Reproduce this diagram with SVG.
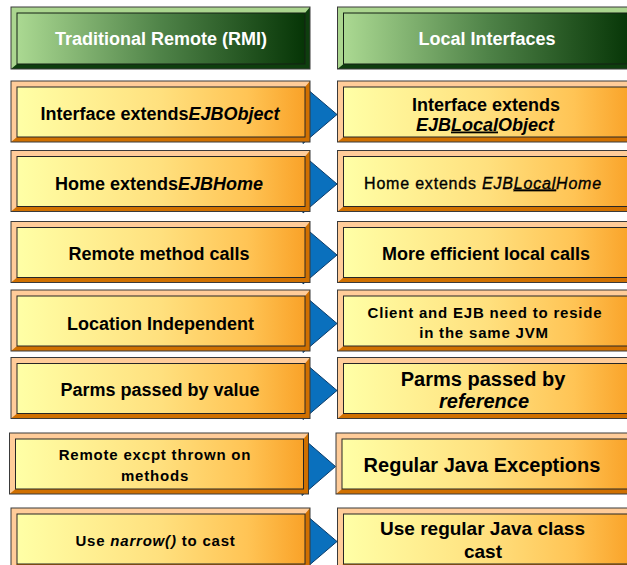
<svg xmlns="http://www.w3.org/2000/svg" xmlns:xlink="http://www.w3.org/1999/xlink" width="627" height="565" viewBox="0 0 627 565">
<defs>
  <linearGradient id="og" x1="0" y1="0" x2="1" y2="0">
    <stop offset="0" stop-color="#FFFFA6"/>
    <stop offset="0.5" stop-color="#FFE07E"/>
    <stop offset="0.8" stop-color="#FFC455"/>
    <stop offset="1" stop-color="#F9A228"/>
  </linearGradient>
  <linearGradient id="gg" x1="0" y1="0" x2="1" y2="0">
    <stop offset="0" stop-color="#ABD992"/>
    <stop offset="0.5" stop-color="#4F8348"/>
    <stop offset="1" stop-color="#063506"/>
  </linearGradient>
  <g id="obox">
    <rect x="0" y="0" width="299" height="61" fill="#D07000"/>
    <polygon points="0,0 299,0 294,6 6,6 6,56 0,61" fill="#FFCC99"/>
    <rect x="6" y="6" width="288" height="50" fill="url(#og)" stroke="#262626" stroke-width="1"/>
    <rect x="0" y="0" width="299" height="61" fill="none" stroke="#3a3a3a" stroke-width="1"/>
  </g>
  <g id="gbox">
    <rect x="0" y="0" width="299" height="62" fill="#0E3E0E"/>
    <polygon points="0,0 299,0 294,6 6,6 6,57 0,62" fill="#ABD68F"/>
    <rect x="6" y="6" width="288" height="51" fill="url(#gg)" stroke="#142014" stroke-width="1"/>
    <rect x="0" y="0" width="299" height="62" fill="none" stroke="#3a3a3a" stroke-width="1"/>
  </g>
</defs>
<style>
  text { font-family: "Liberation Sans", Arial, sans-serif; font-weight: bold; fill: #000; text-anchor: middle; }
  .hd { fill: #fff; font-size: 18px; }
  .t18 { font-size: 18px; }
  .t20 { font-size: 20px; }
  .t19 { font-size: 19px; }
  .t15 { font-size: 15px; letter-spacing: 0.8px; }
  .reg { font-size: 16px; font-weight: normal; letter-spacing: 0.8px; stroke: #000; stroke-width: 0.35px; }
  .it { font-style: italic; }
  .ul { text-decoration: underline; }
  .arr { fill: #0A70BD; stroke: #0A3C6A; stroke-width: 1; }
</style>
<rect width="627" height="565" fill="#fff"/>
<g id="connectors">
  <polygon class="arr" points="303,85.5 337,114.5 303,143.5"/>
  <polygon class="arr" points="303,155 337,184 303,213"/>
  <polygon class="arr" points="303,226 337,255 303,284"/>
  <polygon class="arr" points="303,294.5 337,323.5 303,352.5"/>
  <polygon class="arr" points="303,361.5 337,390.5 303,419.5"/>
  <polygon class="arr" points="302,437.5 335.5,466.5 302,495.5"/>
  <polygon class="arr" points="303,512.5 337,541.5 303,570.5"/>
</g>
<g id="head-left">
  <use xlink:href="#gbox" x="11" y="7"/>
  <text class="hd" x="161" y="45">Traditional Remote (RMI)</text>
</g>
<g id="head-right">
  <use xlink:href="#gbox" x="337.5" y="7"/>
  <text class="hd" x="487" y="45">Local Interfaces</text>
</g>
<g id="l1">
  <use xlink:href="#obox" x="11" y="81"/>
  <text class="t18" x="160" y="119.5">Interface extends<tspan class="it">EJBObject</tspan></text>
</g>
<g id="r1">
  <use xlink:href="#obox" x="337.5" y="81"/>
  <text class="t18" x="486" y="110.5">Interface extends</text>
  <text class="t18 it" x="485" y="130.5">EJB<tspan class="ul">Local</tspan>Object</text>
</g>
<g id="l2">
  <use xlink:href="#obox" x="11" y="150.5"/>
  <text class="t18" x="159" y="189.5">Home extends<tspan class="it">EJBHome</tspan></text>
</g>
<g id="r2">
  <use xlink:href="#obox" x="337.5" y="150.5"/>
  <text class="reg" x="483" y="188.5">Home extends <tspan class="it">EJB</tspan><tspan class="it ul">Local</tspan><tspan class="it">Home</tspan></text>
</g>
<g id="l3">
  <use xlink:href="#obox" x="11" y="221.5"/>
  <text class="t18" x="159" y="260">Remote method calls</text>
</g>
<g id="r3">
  <use xlink:href="#obox" x="337.5" y="221.5"/>
  <text class="t18" x="486" y="260">More efficient local calls</text>
</g>
<g id="l4">
  <use xlink:href="#obox" x="11" y="290"/>
  <text class="t18" x="160.5" y="329.5">Location Independent</text>
</g>
<g id="r4">
  <use xlink:href="#obox" x="337.5" y="290"/>
  <text class="t15" x="485" y="317.5">Client and EJB need to reside</text>
  <text class="t15" x="484" y="337.5">in the same JVM</text>
</g>
<g id="l5">
  <use xlink:href="#obox" x="11" y="357.5"/>
  <text class="t18" x="160" y="396">Parms passed by value</text>
</g>
<g id="r5">
  <use xlink:href="#obox" x="337.5" y="357.5"/>
  <text class="t20" x="483" y="386">Parms passed by</text>
  <text class="t20 it" x="484" y="407.5">reference</text>
</g>
<g id="l6">
  <use xlink:href="#obox" x="9.5" y="433"/>
  <text class="t15" x="155" y="460">Remote excpt thrown on</text>
  <text class="t15" x="155" y="480.5">methods</text>
</g>
<g id="r6">
  <use xlink:href="#obox" x="336" y="433"/>
  <text class="t20" x="482" y="471.5">Regular Java Exceptions</text>
</g>
<g id="l7">
  <use xlink:href="#obox" x="11" y="508"/>
  <text class="t15" x="155.5" y="546">Use <tspan class="it">narrow()</tspan> to cast</text>
</g>
<g id="r7">
  <use xlink:href="#obox" x="337.5" y="508"/>
  <text class="t19" x="482.5" y="535">Use regular Java class</text>
  <text class="t19" x="483" y="557.5">cast</text>
</g>
</svg>
